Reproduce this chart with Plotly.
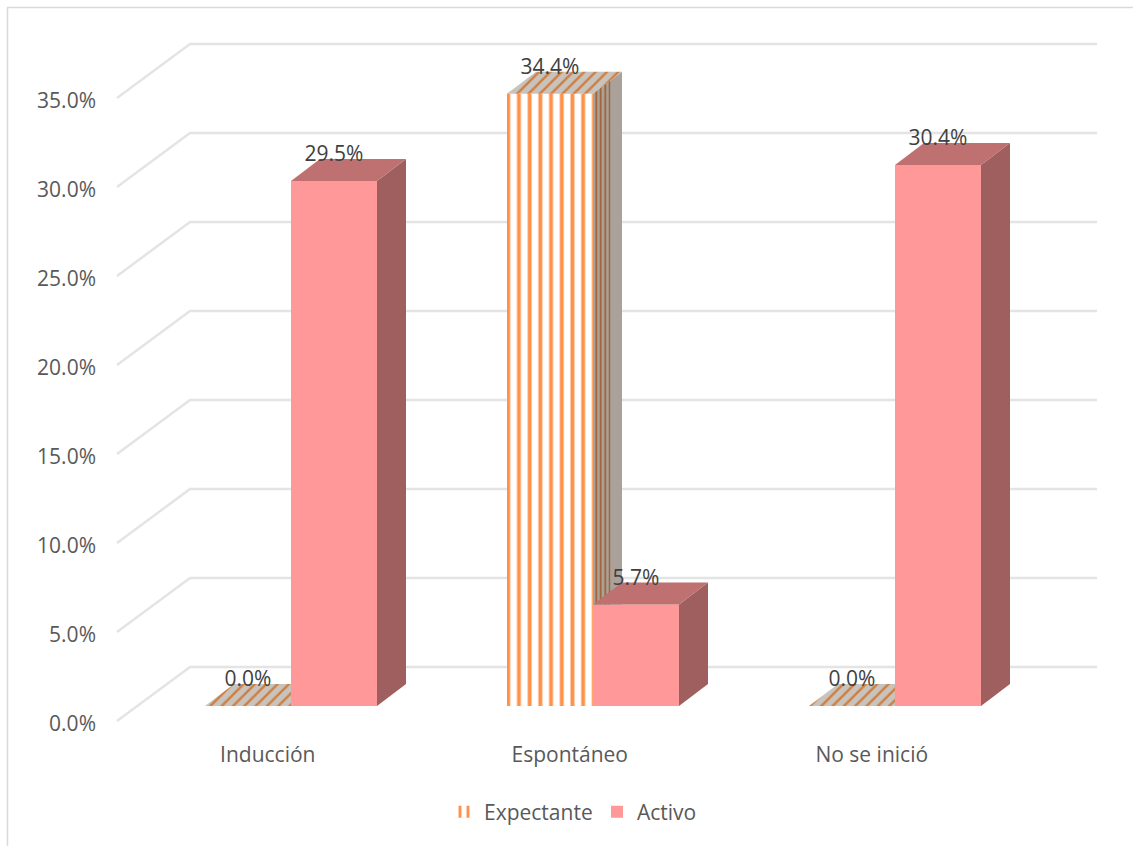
import plotly.graph_objects as go

categories = ["Inducción", "Espontáneo", "No se inició"]
expectante = [0.0, 34.4, 0.0]
activo = [29.5, 5.7, 30.4]
tick_values = [0, 5, 10, 15, 20, 25, 30, 35]

W, H = 1133, 846
PX_PER_UNIT_Y = 17.8
Y0_PX = 721
PX_PER_CAT = 302
X0_PX = 291


def xv(px):
    return (px - X0_PX) / PX_PER_CAT


def yv(px):
    return (Y0_PX - px) / PX_PER_UNIT_Y


BAR_W = 86 / PX_PER_CAT
DX = 29 / PX_PER_CAT
DY = 22 / PX_PER_UNIT_Y
FLOOR = 15 / PX_PER_UNIT_Y
WALL_DY = 54 / PX_PER_UNIT_Y
LABEL_UP = 25 / PX_PER_UNIT_Y

FONT = "Open Sans"
FS = 21
TXT = "#595959"
ORANGE = "#ff9148"

fig = go.Figure()

fig.add_trace(go.Bar(
    name="Expectante", x=list(range(3)), y=expectante, base=FLOOR,
    marker=dict(color="white", line=dict(width=0),
                pattern=dict(shape="|", size=10.7, solidity=0.36,
                             fgcolor=ORANGE, bgcolor="white", fillmode="replace")),
))
fig.add_trace(go.Bar(
    name="Activo", x=list(range(3)), y=activo, base=FLOOR,
    marker=dict(color="#ff9999", line=dict(width=0)),
))


def poly(xs, ys, color, pattern=None):
    kw = dict(fillpattern=pattern) if pattern else {}
    fig.add_trace(go.Scatter(
        x=xs + xs[:1], y=ys + ys[:1], mode="lines", fill="toself",
        fillcolor=color, line=dict(width=0), hoverinfo="skip",
        showlegend=False, **kw))


GREY = "#aaa29a"
top_hatch = dict(shape="/", size=8, solidity=0.3, fgcolor="#cf7d3f", bgcolor="#c8c3bc", fillmode="replace")
side_hatch = dict(shape="|", size=4.5, solidity=0.35, fgcolor="#a05a26", bgcolor=GREY, fillmode="replace")

# Expectante: visible side and top faces, cut where the Activo bar stands in front
for i, (e, a) in enumerate(zip(expectante, activo)):
    l, r = i - BAR_W, i
    t = e + FLOOR
    ta = a + FLOOR
    if e > a:
        poly([r, r + DX, r + DX, r], [t, t + DY, ta, ta], GREY)
        part = 0.6
        poly([r, r + part * DX, r + part * DX, r], [t, t + part * DY, ta, ta], GREY, side_hatch)
        poly([l, r, r + DX, l + DX], [t, t, t + DY, t + DY], "#c8c3bc", top_hatch)
    else:
        poly([l, r, r, l + DX], [t, t, t + DY, t + DY], "#c8c3bc", top_hatch)

# Activo: side and top faces
for i, a in enumerate(activo):
    l, r = i, i + BAR_W
    t = a + FLOOR
    poly([r, r + DX, r + DX, r], [FLOOR, FLOOR + DY, t + DY, t], "#a05f5f")
    poly([l, r, r + DX, l + DX], [t, t, t + DY, t + DY], "#bf7070")

# Data labels
lab_x, lab_y, lab_t = [], [], []
for i, (e, a) in enumerate(zip(expectante, activo)):
    lab_x += [i - BAR_W / 2, i + BAR_W / 2]
    lab_y += [e + FLOOR + LABEL_UP, a + FLOOR + LABEL_UP]
    lab_t += [f"{e:.1f}%", f"{a:.1f}%"]
fig.add_trace(go.Scatter(
    x=lab_x, y=lab_y, text=lab_t, mode="text", textposition="middle center",
    textfont=dict(family=FONT, size=FS, color="#404040"),
    hoverinfo="skip", showlegend=False))

# Wall and side-wall gridlines, under the bars
shapes = []
for t in tick_values:
    shapes.append(dict(
        type="path", xref="x", yref="y", layer="below",
        path=f"M {xv(117)} {t} L {xv(190)} {t + WALL_DY} L {xv(1097)} {t + WALL_DY}",
        line=dict(color="#e4e4e4", width=2.5)))
# Chart frame
shapes.append(dict(type="path", xref="paper", yref="paper", layer="below",
                   path=f"M {7.5 / W} 0 L {7.5 / W} {1 - 7.5 / H} L 1 {1 - 7.5 / H}",
                   line=dict(color="#d9d9d9", width=1.5)))

fig.update_layout(
    width=W, height=H, autosize=False,
    margin=dict(l=0, r=0, t=0, b=0),
    paper_bgcolor="white", plot_bgcolor="rgba(0,0,0,0)",
    barmode="group", bargap=1 - 2 * BAR_W, bargroupgap=0,
    shapes=shapes,
    font=dict(family=FONT, size=FS, color=TXT),
    xaxis=dict(range=[xv(0), xv(W)], domain=[0, 1], anchor="free", position=1 - 740 / H,
               tickmode="array", tickvals=[i - 0.077 for i in range(3)], ticktext=categories,
               showgrid=False, zeroline=False, showline=False, ticks="",
               tickfont=dict(family=FONT, size=FS, color=TXT)),
    yaxis=dict(range=[yv(H), yv(0)], domain=[0, 1], anchor="free", position=96 / W,
               tickmode="array", tickvals=tick_values, ticktext=[f"{t:.1f}%" for t in tick_values],
               ticklabelshift=3,
               showgrid=False, zeroline=False, showline=False, ticks="",
               tickfont=dict(family=FONT, size=FS, color=TXT)),
    legend=dict(orientation="h", x=444 / W, xanchor="left", y=1 - 812 / H, yanchor="middle",
                entrywidth=108, entrywidthmode="pixels",
                font=dict(family=FONT, size=FS, color=TXT), bgcolor="rgba(0,0,0,0)"),
)

fig.write_html("out.html", config=dict(displayModeBar=False),
               post_script="document.body.style.margin='0';document.body.style.overflow='hidden';")
